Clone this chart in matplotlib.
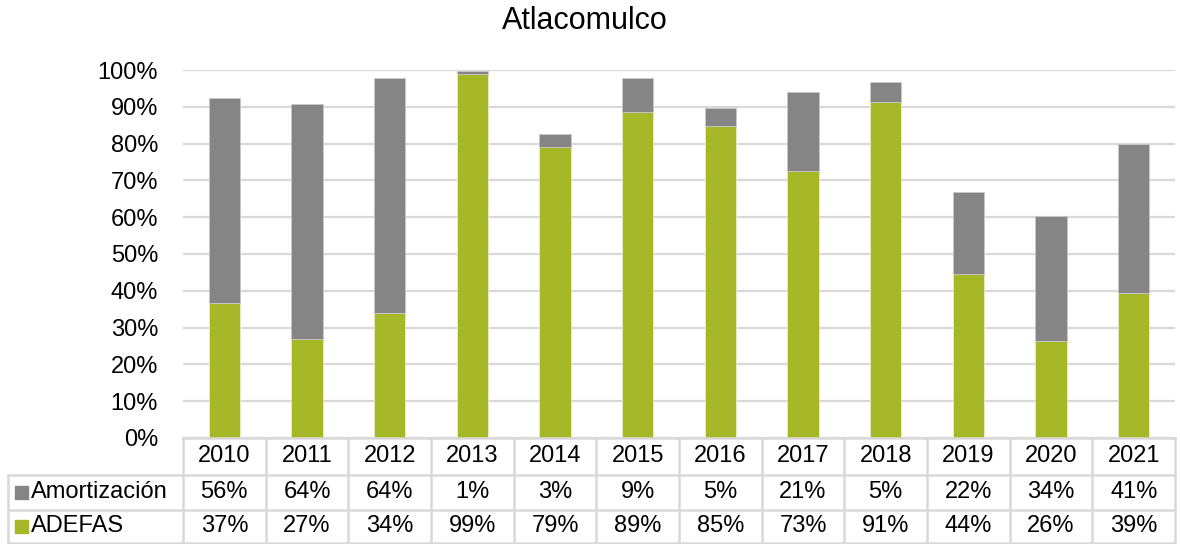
import numpy as np
import matplotlib
matplotlib.use('Agg')
import matplotlib.pyplot as plt
from matplotlib.patches import Rectangle

plt.rcParams['font.family'] = ['Liberation Sans', 'DejaVu Sans']

years = ['2010', '2011', '2012', '2013', '2014', '2015',
         '2016', '2017', '2018', '2019', '2020', '2021']

# shares (percent)
adefas = [36.8, 27.0, 33.9, 98.8, 79.2, 88.6, 84.7, 72.5, 91.3, 44.6, 26.4, 39.4]
amortizacion = [55.6, 63.8, 63.9, 0.8, 3.4, 9.2, 5.0, 21.4, 5.4, 22.2, 34.0, 40.6]

# values printed in the table
adefas_lbl = ['37%', '27%', '34%', '99%', '79%', '89%', '85%', '73%', '91%', '44%', '26%', '39%']
amort_lbl = ['56%', '64%', '64%', '1%', '3%', '9%', '5%', '21%', '5%', '22%', '34%', '41%']

green = '#a6b828'
gray = '#858585'
line_col = '#d9d9d9'
fs = 17

fig = plt.figure(figsize=(11.8, 5.44), dpi=100)
ax = fig.add_axes([0.1551, 0.1949, 0.8407, 0.6764])

x = np.arange(len(years))

ax.bar(x, adefas, width=0.38, color=green, edgecolor='#e8ecd0', linewidth=0.6, zorder=3)
ax.bar(x, amortizacion, bottom=adefas, width=0.38, color=gray,
       edgecolor='#c8c8c8', linewidth=0.6, zorder=3)

ax.set_xlim(-0.5, len(years) - 0.5)
ax.set_ylim(0, 100)
ax.set_yticks(np.arange(0, 101, 10))
ax.set_yticklabels(['{}%'.format(v) for v in range(0, 101, 10)], fontsize=fs)
ax.tick_params(axis='y', length=0, pad=18)
ax.set_xticks([])
ax.yaxis.grid(True, color=line_col, linewidth=1.6, zorder=0)
for s in ax.spines.values():
    s.set_visible(False)

# data table below the plot
tr = ax.get_xaxis_transform()
row_y = [0.0, -0.1005, -0.1957, -0.2853]
left = -2.617
lw = 1.8

ax.plot([-0.5, len(years) - 0.5], [row_y[0], row_y[0]], transform=tr,
        color=line_col, lw=lw, clip_on=False, zorder=4)
for yy in row_y[1:]:
    ax.plot([left, len(years) - 0.5], [yy, yy], transform=tr,
            color=line_col, lw=lw, clip_on=False)
for k in range(len(years) + 1):
    ax.plot([k - 0.5, k - 0.5], [row_y[0], row_y[3]], transform=tr,
            color=line_col, lw=lw, clip_on=False)
ax.plot([left, left], [row_y[1], row_y[3]], transform=tr,
        color=line_col, lw=lw, clip_on=False)

for i in range(len(years)):
    ax.text(i, -0.049, years[i], transform=tr, ha='center', va='center', fontsize=fs)
    ax.text(i, -0.147, amort_lbl[i], transform=tr, ha='center', va='center', fontsize=fs)
    ax.text(i, -0.240, adefas_lbl[i], transform=tr, ha='center', va='center', fontsize=fs)

ax.add_patch(Rectangle((-0.1694, -0.147 - 0.0175), 0.0131, 0.035,
                       transform=ax.transAxes, color=gray, clip_on=False))
ax.add_patch(Rectangle((-0.1694, -0.240 - 0.0175), 0.0131, 0.035,
                       transform=ax.transAxes, color=green, clip_on=False))
ax.text(-0.1533, -0.147, 'Amortización', transform=ax.transAxes,
        ha='left', va='center', fontsize=fs)
ax.text(-0.1533, -0.240, 'ADEFAS', transform=ax.transAxes,
        ha='left', va='center', fontsize=fs)

fig.text(0.496, 0.962, 'Atlacomulco', ha='center', va='center', fontsize=22)

fig.savefig('out.png', dpi=100)
